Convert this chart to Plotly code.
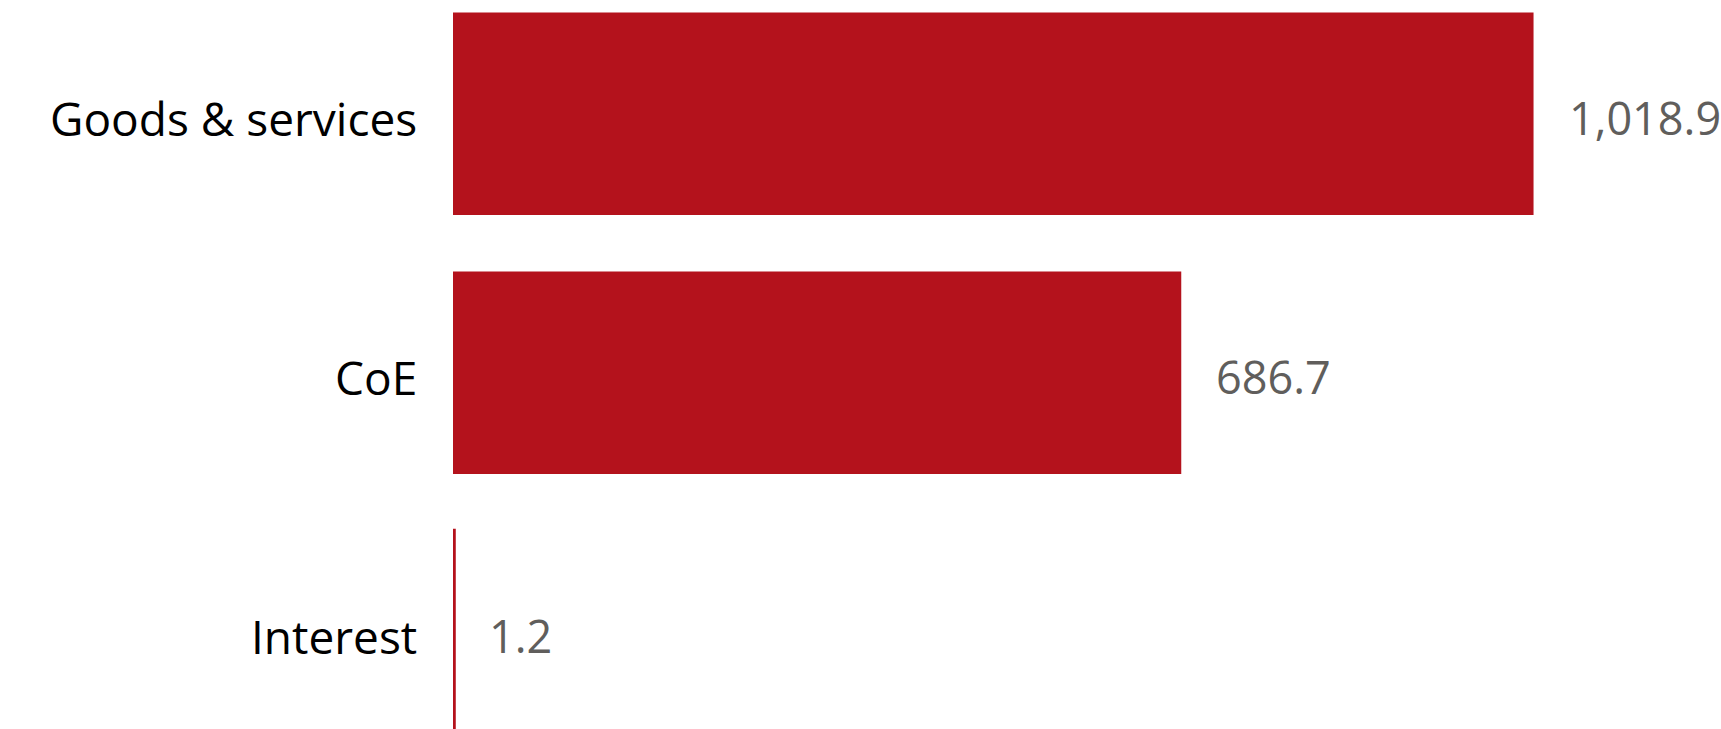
import plotly.graph_objects as go

categories = ["Goods & services", "CoE", "Interest"]
values = [1018.9, 686.7, 1.2]
value_labels = ["1,018.9", "686.7", "1.2"]

BAR_COLOR = "#B4121C"
W, H = 1721, 729
left = 453
px_per_unit = 1.0605
row_px = 258.9
first_center = 113.75
FONT = "Segoe UI, Open Sans, sans-serif"

fig = go.Figure()
fig.add_trace(go.Bar(
    x=values, y=categories, orientation="h",
    marker=dict(color=BAR_COLOR, line=dict(color=BAR_COLOR, width=[0, 0, 3])),
    hoverinfo="skip",
))

for c, v, t in zip(categories, values, value_labels):
    fig.add_annotation(x=v, y=c, text=t, showarrow=False, xanchor="left", yanchor="middle",
                       xshift=33, yshift=-4, font=dict(family=FONT, size=45, color="#605E5C"))
    fig.add_annotation(x=0, y=c, text=c, showarrow=False, xanchor="right", yanchor="middle",
                       xshift=-34, yshift=-4, font=dict(family=FONT, size=46, color="#000000"))

y_top = -first_center / row_px
y_bot = y_top + H / row_px
fig.update_layout(
    width=W, height=H,
    margin=dict(l=left, r=0, t=0, b=0),
    paper_bgcolor="white", plot_bgcolor="white",
    showlegend=False,
    bargap=0.218,
    xaxis=dict(range=[0, (W - left) / px_per_unit], visible=False, fixedrange=True),
    yaxis=dict(range=[y_bot, y_top], type="category", showgrid=False, zeroline=False,
               showline=False, ticks="", showticklabels=False, fixedrange=True),
)
fig.write_html("out.html", config={"displayModeBar": False},
               post_script="document.body.style.margin='0';")
